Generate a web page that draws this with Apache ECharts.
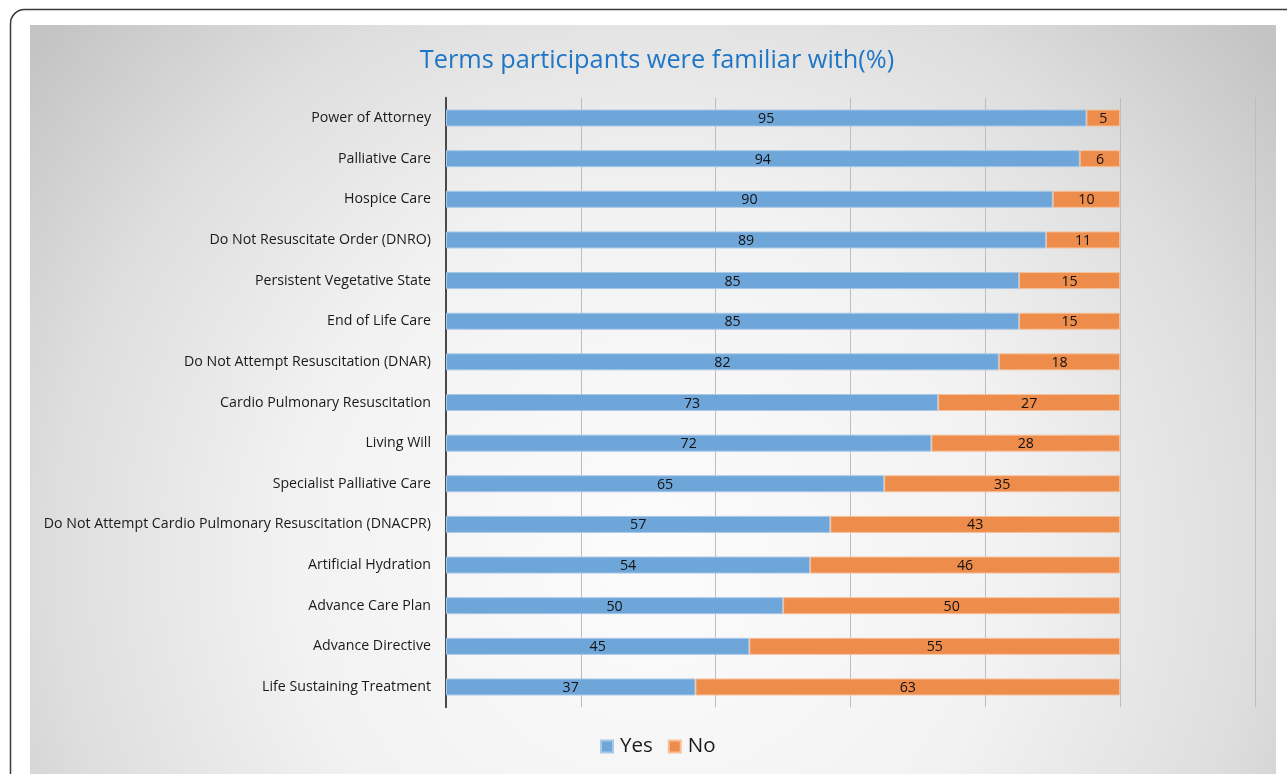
<!DOCTYPE html>
<html><head><meta charset="utf-8">
<script src="https://cdn.jsdelivr.net/npm/echarts@6/dist/echarts.min.js"></script>
<style>html,body{margin:0;padding:0;background:#fff}#c{width:1287px;height:774px}</style>
</head><body><div id="c"></div>
<script>
var categories = ["Power of Attorney","Palliative Care","Hospice Care","Do Not Resuscitate Order (DNRO)","Persistent Vegetative State","End of Life Care","Do Not Attempt Resuscitation (DNAR)","Cardio Pulmonary Resuscitation","Living Will","Specialist Palliative Care","Do Not Attempt Cardio Pulmonary Resuscitation (DNACPR)","Artificial Hydration","Advance Care Plan","Advance Directive","Life Sustaining Treatment"];
var yesValues = [95,94,90,89,85,85,82,73,72,65,57,54,50,45,37];
var noValues = [5,6,10,11,15,15,18,27,28,35,43,46,50,55,63];
var seriesNames = ["Yes","No"];
var titleText = "Terms participants were familiar with(%)";

var font = "'Open Sans', 'Noto Sans', sans-serif";
var chart = echarts.init(document.getElementById('c'), null, {renderer:'canvas'});
chart.setOption({
  animation:false,
  backgroundColor:'#ffffff',
  graphic:[
    {type:'rect', z:-20, shape:{x:10.5,y:9.5,width:1310,height:800,r:14}, style:{fill:'#ffffff',stroke:'#3a3a3a',lineWidth:1.5}},
    {type:'rect', z:-19, shape:{x:30,y:25,width:1246,height:760},
     style:{fill:new echarts.graphic.RadialGradient(0.5,0.7,1.05,[{offset:0,color:'#fcfcfc'},{offset:0.45,color:'#f2f2f2'},{offset:0.75,color:'#dedede'},{offset:1,color:'#c4c4c4'}])}}
  ],
  title:{text:titleText,left:652,top:43,textAlign:'center',
    textStyle:{color:'#1f76c6',fontSize:25.3,fontWeight:'normal',fontFamily:font}},
  legend:{data:seriesNames,bottom:12,left:595,icon:'rect',itemWidth:12,itemHeight:12,itemGap:15,
    textStyle:{fontSize:20.5,color:'#1a1a1a',fontFamily:font,padding:[0,0,0,2]}},
  grid:{left:446,right:32,top:97.7,bottom:66.7,containLabel:false},
  xAxis:{type:'value',min:0,max:120,interval:20,
    axisLabel:{show:false},axisLine:{show:false},axisTick:{show:false},
    splitLine:{show:true,lineStyle:{color:'#bdbdbd',width:1}}},
  yAxis:{type:'category',data:categories,inverse:true,
    axisLine:{show:true,lineStyle:{color:'#4a4a4a',width:2}},
    axisTick:{show:false},
    axisLabel:{color:'#1a1a1a',fontSize:14.2,margin:15,fontFamily:font}},
  series:[
    {name:seriesNames[0],type:'bar',stack:'t',data:yesValues,barWidth:17,
     itemStyle:{color:'#6fa6d9',borderColor:'#a8c8e8',borderWidth:1},
     label:{show:true,position:'inside',color:'#111',fontSize:14.2,fontFamily:font,offset:[0,1]}},
    {name:seriesNames[1],type:'bar',stack:'t',data:noValues,barWidth:17,
     itemStyle:{color:'#ee8c4b',borderColor:'#f5c09a',borderWidth:1},
     label:{show:true,position:'inside',color:'#111',fontSize:14.2,fontFamily:font,offset:[0,1]}}
  ]
});
</script></body></html>
